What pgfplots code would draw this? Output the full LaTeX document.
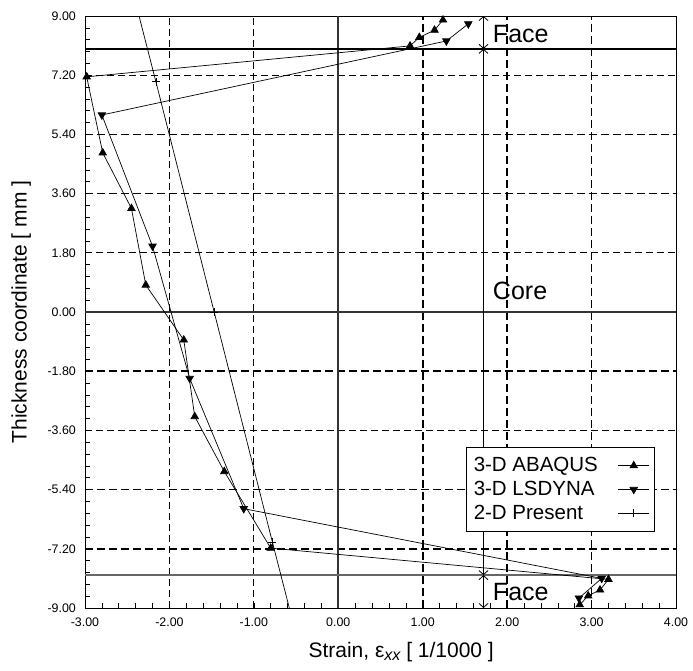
\documentclass[border=0pt]{standalone}
\usepackage{fontspec}
\setmainfont{Liberation Sans}
\usepackage{pgfplots}
\pgfplotsset{compat=1.18}
\usetikzlibrary{arrows.meta}
\begin{document}
\begin{tikzpicture}
\path[use as bounding box] (-85pt,-63pt) rectangle (608pt,608pt);
\begin{axis}[
  at={(0,0)}, anchor=south west,
  width=591pt, height=592pt, scale only axis,
  xmin=-3, xmax=4, ymin=-9, ymax=9,
  xtick={-3,-2,-1,0,1,2,3,4},
  xticklabels={-3.00,-2.00,-1.00,0.00,1.00,2.00,3.00,4.00},
  ytick={-9,-7.2,-5.4,-3.6,-1.8,0,1.8,3.6,5.4,7.2,9},
  yticklabels={-9.00,-7.20,-5.40,-3.60,-1.80,0.00,1.80,3.60,5.40,7.20,9.00},
  minor x tick num=4, minor y tick num=4,
  tick align=inside, xtick pos=bottom, ytick pos=left,
  major tick length=5pt, minor tick length=5pt,
  tick style={black, line width=0.6pt},
  axis line style={line width=0.8pt},
  ticklabel style={font=\fontsize{12.4}{14}\selectfont},
  yticklabel style={anchor=east, inner sep=0pt, xshift=-9pt},
  xticklabel style={anchor=north, inner sep=0pt, yshift=-10pt},
  xlabel={Strain, ε\raisebox{-0.3ex}{\fontsize{16}{16}\selectfont\itshape xx} [ 1/1000 ]},
  ylabel={Thickness coordinate [ mm ]},
  label style={font=\fontsize{21}{24}\selectfont},
  xlabel style={at={(axis description cs:0.535,-0.0743)}, anchor=center},
  ylabel style={at={(axis description cs:-0.108,0.5)}, anchor=center},
  legend style={at={(axis description cs:0.645,0.272)}, anchor=north west,
    draw=black, line width=1.1pt, fill=white,
    font=\fontsize{20.5}{23.5}\selectfont, inner xsep=5pt, inner ysep=8pt,
    cells={font=\fontsize{20.5}{23.5}\selectfont},
    nodes={inner sep=2pt, text depth=0.2em},
    row sep=3.5pt, column sep=18pt},
  legend cell align=left, legend plot pos=right,
  legend image code/.code={\draw[#1,mark repeat=2,mark phase=2] plot coordinates {(0pt,0pt) (15.5pt,0pt) (31pt,0pt)};},
]
% grid lines
\tikzset{thindash/.style={line width=0.8pt, dash pattern=on 7pt off 4pt},
         thickdash/.style={line width=1.6pt, dash pattern=on 8pt off 4pt}}
\draw[thindash] (axis cs:-2,-9) -- (axis cs:-2,9);
\draw[thindash] (axis cs:-1,-9) -- (axis cs:-1,9);
\draw[thickdash] (axis cs:1,-9) -- (axis cs:1,9);
\draw[thickdash] (axis cs:2,-9) -- (axis cs:2,9);
\draw[thickdash] (axis cs:3,-9) -- (axis cs:3,9);
\draw[thindash] (axis cs:-3,7.2) -- (axis cs:4,7.2);
\draw[thickdash] (axis cs:-3,5.4) -- (axis cs:4,5.4);
\draw[thickdash] (axis cs:-3,3.6) -- (axis cs:4,3.6);
\draw[thindash] (axis cs:-3,1.8) -- (axis cs:4,1.8);
\draw[thickdash] (axis cs:-3,-1.8) -- (axis cs:4,-1.8);
\draw[thindash] (axis cs:-3,-3.6) -- (axis cs:4,-3.6);
\draw[thickdash] (axis cs:-3,-5.4) -- (axis cs:4,-5.4);
\draw[thickdash] (axis cs:-3,-7.2) -- (axis cs:4,-7.2);
\draw[line width=1.6pt, black!80] (axis cs:0,-9) -- (axis cs:0,9);
\draw[line width=1.6pt, black!80] (axis cs:-3,0) -- (axis cs:4,0);
\draw[line width=1.6pt, black] (axis cs:-3,8) -- (axis cs:4,8);
\draw[line width=1.4pt, black!60] (axis cs:-3,-8) -- (axis cs:4,-8);
% annotation
\draw[line width=0.8pt, {Straight Barb[length=4pt,width=9pt]}-{Straight Barb[length=4pt,width=9pt]}] (axis cs:1.72,9) -- (axis cs:1.72,8);
\draw[line width=0.8pt, {Straight Barb[length=4pt,width=9pt]}-{Straight Barb[length=4pt,width=9pt]}] (axis cs:1.72,8) -- (axis cs:1.72,-8);
\draw[line width=0.8pt, {Straight Barb[length=4pt,width=9pt]}-{Straight Barb[length=4pt,width=9pt]}] (axis cs:1.72,-8) -- (axis cs:1.72,-9);
\node[anchor=west, font=\fontsize{25}{25}\selectfont, inner sep=0pt] at (axis cs:1.83,8.45) {Face};
\node[anchor=west, font=\fontsize{25}{25}\selectfont, inner sep=0pt] at (axis cs:1.83,0.64) {Core};
\node[anchor=west, font=\fontsize{25}{25}\selectfont, inner sep=0pt] at (axis cs:1.83,-8.5) {Face};
% data
\addplot[black, line width=0.7pt, mark=triangle*, mark size=4.3pt, mark options={solid}] coordinates {
(1.24,8.88) (1.14,8.57) (0.96,8.35) (0.85,8.09) (-2.98,7.15) (-2.79,4.84)
(-2.45,3.15) (-2.28,0.82) (-1.83,-0.85) (-1.70,-3.18) (-1.35,-4.85) (-0.80,-7.18)
(3.20,-8.13) (3.10,-8.45) (2.96,-8.63) (2.86,-8.90)};
\addlegendentry{3-D ABAQUS}
\addplot[black, line width=0.7pt, mark=triangle*, mark size=4.3pt, mark options={solid,rotate=180}] coordinates {
(1.54,8.76) (1.28,8.24) (-2.80,5.99) (-2.20,2.00) (-1.76,-2.02) (-1.12,-5.98)
(3.12,-8.10) (2.85,-8.70)};
\addlegendentry{3-D LSDYNA}
\addplot[black, line width=0.7pt, no marks, forget plot] coordinates {(-2.36,9) (-2.16,7)};
\addplot[black, line width=0.7pt, no marks, forget plot] coordinates {(-0.78,-7) (-0.58,-9)};
\addplot[black, line width=0.7pt, mark=+, mark size=4pt] coordinates {
(-2.16,7) (-1.47,0) (-0.78,-7)};
\addlegendentry{2-D Present}
\end{axis}
\end{tikzpicture}
\end{document}
